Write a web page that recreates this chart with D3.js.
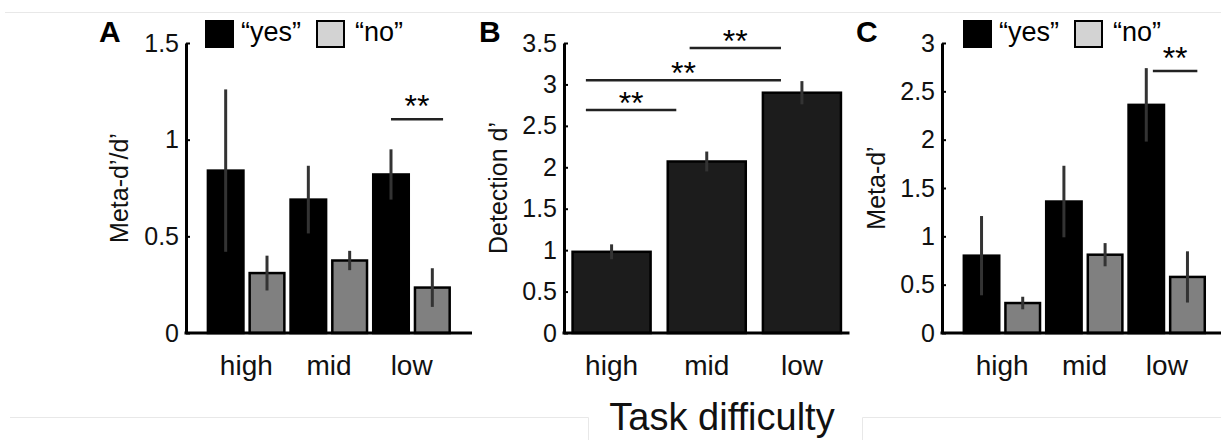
<!DOCTYPE html>
<html>
<head>
<meta charset="utf-8">
<script src="https://cdn.jsdelivr.net/npm/d3@7"></script>
<style>
  body { margin: 0; background: #fff; }
  svg { display: block; font-family: "Liberation Sans", Arial, sans-serif; }
  .tick text { font-size: 25px; fill: #111; }
</style>
</head>
<body>
<svg id="fig" width="1221" height="440"></svg>
<script>
// task difficulty levels
const groups = ["high", "mid", "low"];

// A: meta-d'/d'
const ratioYes = [0.84, 0.69, 0.82];
const ratioYesErr = [0.42, 0.175, 0.13];
const ratioNo = [0.31, 0.375, 0.235];
const ratioNoErr = [0.09, 0.05, 0.10];

// B: detection d'
const detect = [0.98, 2.07, 2.90];
const detectErr = [0.09, 0.12, 0.14];

// C: meta-d'
const metaYes = [0.80, 1.36, 2.36];
const metaYesErr = [0.41, 0.37, 0.38];
const metaNo = [0.31, 0.81, 0.58];
const metaNoErr = [0.065, 0.12, 0.265];

// significance bars: [x from, x to, y]
const sigA = [[2.75, 3.38, 1.105]];
const sigB = [[0.73, 1.68, 2.69], [0.73, 2.78, 3.05], [1.82, 2.78, 3.44]];
const sigC = [[2.83, 3.37, 2.71]];

const ticksA = [0, 0.5, 1, 1.5];
const ticksB = [0, 0.5, 1, 1.5, 2, 2.5, 3, 3.5];
const ticksC = [0, 0.5, 1, 1.5, 2, 2.5, 3];

const svg = d3.select("#fig");
const plotTop = 43, plotBottom = 333;

// faint frame lines from the source page
const frame = svg.append("g").attr("stroke", "#e8e8e8").attr("stroke-width", 1).attr("fill", "none");
frame.append("path").attr("d", "M5,12.5H1221");
frame.append("path").attr("d", "M10,417.5H588.5V440");
frame.append("path").attr("d", "M1221,417.5H862.5V440");

function panel(opt) {
    const g = svg.append("g");
    const x = d3.scaleLinear().domain(opt.xlim).range([opt.left, opt.right]);
    const y = d3.scaleLinear().domain([0, opt.ymax]).range([plotBottom, plotTop]);

    // bars
    opt.series.forEach(s => {
        const bars = g.append("g");
        s.values.forEach((v, i) => {
            const cx = i + 1 + s.offset;
            bars.append("rect")
                .attr("x", x(cx - s.width / 2))
                .attr("width", x(cx + s.width / 2) - x(cx - s.width / 2))
                .attr("y", y(v))
                .attr("height", y(0) - y(v))
                .style("fill", s.fill)
                .style("stroke", "#000")
                .style("stroke-width", 2.5);
        });
        s.values.forEach((v, i) => {
            const cx = x(i + 1 + s.offset);
            g.append("line")
                .attr("x1", cx).attr("x2", cx)
                .attr("y1", y(v - s.err[i])).attr("y2", y(v + s.err[i]))
                .style("stroke", "#333")
                .style("stroke-width", 3);
        });
    });

    // axes
    const yAxis = d3.axisLeft(y).tickValues(opt.ticks)
        .tickFormat(d3.format("~g"))
        .tickSizeInner(-4).tickSizeOuter(0).tickPadding(7);
    const ya = g.append("g").attr("transform", `translate(${opt.left},0)`).call(yAxis);
    ya.select(".domain").attr("stroke-width", 3);
    ya.selectAll(".tick line").attr("stroke-width", 2);

    g.append("line")
        .attr("x1", opt.left - 1.5).attr("x2", opt.right)
        .attr("y1", plotBottom).attr("y2", plotBottom)
        .style("stroke", "#000").style("stroke-width", 3);

    g.selectAll(".xlab")
        .data(groups)
        .join("text")
        .attr("class", "xlab")
        .attr("x", (d, i) => x(i + 1))
        .attr("y", 375)
        .attr("text-anchor", "middle")
        .style("font-size", "28px")
        .style("fill", "#111")
        .text(d => d);

    // y label
    g.append("text")
        .attr("transform", `translate(${opt.ylabX},${(plotTop + plotBottom) / 2}) rotate(-90)`)
        .attr("text-anchor", "middle")
        .style("font-size", "25px")
        .style("fill", "#111")
        .text(opt.ylabel);

    // panel letter
    g.append("text")
        .attr("x", opt.letterX).attr("y", 42)
        .style("font-size", "30px").style("font-weight", "bold")
        .text(opt.letter);

    // significance
    opt.sig.forEach(s => {
        g.append("line")
            .attr("x1", x(s[0])).attr("x2", x(s[1]))
            .attr("y1", y(s[2])).attr("y2", y(s[2]))
            .style("stroke", "#222").style("stroke-width", 2.5);
        g.append("text")
            .attr("x", (x(s[0]) + x(s[1])) / 2)
            .attr("y", y(s[2]) + opt.starDy)
            .attr("text-anchor", "middle")
            .style("font-size", "32px")
            .text("**");
    });

    // legend
    if (opt.legend) {
        const lg = g.append("g").attr("transform", `translate(${opt.legend},21)`);
        lg.append("rect").attr("x", 0).attr("width", 27).attr("height", 26)
            .style("fill", "#000").style("stroke", "#000").style("stroke-width", 2);
        lg.append("text").attr("x", 35).attr("y", 20).style("font-size", "27px").text("\u201cyes\u201d");
        lg.append("rect").attr("x", 111).attr("width", 27).attr("height", 26)
            .style("fill", "#d3d3d3").style("stroke", "#000").style("stroke-width", 2);
        lg.append("text").attr("x", 149).attr("y", 20).style("font-size", "27px").text("\u201cno\u201d");
    }
}

panel({
    letter: "A", letterX: 99, left: 186, right: 472, xlim: [0.27, 3.73], ymax: 1.5, ticks: ticksA,
    ylabel: "Meta-d\u2019/d\u2019", ylabX: 128, sig: sigA, starDy: -2, legend: 206,
    series: [
        { values: ratioYes, err: ratioYesErr, offset: -0.25, width: 0.43, fill: "#000" },
        { values: ratioNo, err: ratioNoErr, offset: 0.25, width: 0.42, fill: "#808080" }
    ]
});

panel({
    letter: "B", letterX: 479, left: 564, right: 849.5, xlim: [0.5, 3.5], ymax: 3.5, ticks: ticksB,
    ylabel: "Detection d\u2019", ylabX: 507, sig: sigB, starDy: 4, legend: null,
    series: [
        { values: detect, err: detectErr, offset: 0, width: 0.82, fill: "#1c1c1c" }
    ]
});

panel({
    letter: "C", letterX: 856, left: 942, right: 1227, xlim: [0.27, 3.73], ymax: 3, ticks: ticksC,
    ylabel: "Meta-d\u2019", ylabX: 885, sig: sigC, starDy: -2, legend: 964,
    series: [
        { values: metaYes, err: metaYesErr, offset: -0.25, width: 0.43, fill: "#000" },
        { values: metaNo, err: metaNoErr, offset: 0.25, width: 0.42, fill: "#808080" }
    ]
});

svg.append("text")
    .attr("x", 722).attr("y", 430)
    .attr("text-anchor", "middle")
    .style("font-size", "38px")
    .style("fill", "#111")
    .text("Task difficulty");
</script>
</body>
</html>
